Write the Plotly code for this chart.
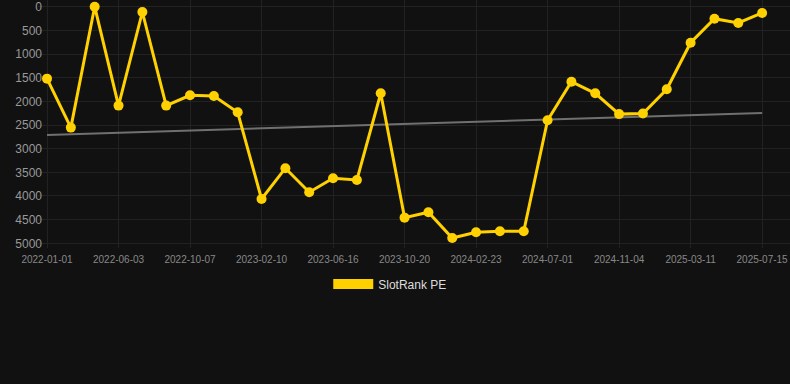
import plotly.graph_objects as go

dates = [
    "2022-01-01", "2022-02-19", "2022-04-11", "2022-06-03", "2022-07-15", "2022-08-26",
    "2022-10-07", "2022-11-18", "2022-12-30", "2023-02-10", "2023-03-24", "2023-05-05",
    "2023-06-16", "2023-07-28", "2023-09-08", "2023-10-20", "2023-12-01", "2024-01-12",
    "2024-02-23", "2024-04-06", "2024-05-19", "2024-07-01", "2024-08-12", "2024-09-23",
    "2024-11-04", "2024-12-16", "2025-01-27", "2025-03-11", "2025-04-22", "2025-06-03",
    "2025-07-15",
]
rank = [
    1520, 2555, 0, 2090, 112, 2090, 1873, 1887, 2232, 4064,
    3413, 3920, 3625, 3662, 1830, 4458, 4343, 4888, 4766, 4747,
    4747, 2400, 1585, 1830, 2270, 2258, 1745, 762, 253, 343,
    133,
]
trend_x = [dates[0], dates[-1]]
trend_y = [2711, 2246]
tick_dates = dates[::3]
y_ticks = [0, 500, 1000, 1500, 2000, 2500, 3000, 3500, 4000, 4500, 5000]
series_name = "SlotRank PE"

gold = "#FFD100"
bg = "#111111"

fig = go.Figure()
fig.add_trace(go.Scatter(
    x=trend_x, y=trend_y, mode="lines",
    line=dict(color="#707070", width=2),
    showlegend=False, hoverinfo="skip",
))
fig.add_trace(go.Scatter(
    x=dates, y=rank, mode="lines+markers",
    line=dict(color=gold, width=3),
    marker=dict(color=gold, size=10),
    cliponaxis=False, showlegend=False, name=series_name,
))
fig.add_trace(go.Scatter(
    x=[None], y=[None], mode="lines",
    line=dict(color=gold, width=12),
    name=series_name, showlegend=True,
))

s = 236.6 / 5000.0
fig.update_layout(
    width=790, height=384,
    paper_bgcolor=bg, plot_bgcolor=bg,
    margin=dict(l=38, r=0, t=0, b=136),
    font=dict(family="Arial, Liberation Sans, sans-serif", color="#999999"),
    xaxis=dict(
        type="category",
        categoryorder="array", categoryarray=dates,
        range=[-0.378, 31.17],
        tickvals=tick_dates, ticktext=tick_dates,
        tickfont=dict(size=10, color="#888888"),
        showgrid=True, gridcolor="#222222", gridwidth=1,
        zeroline=False, showline=False, ticks="",
        ticklabelstandoff=4, ticklabeloverflow="allow",
    ),
    yaxis=dict(
        range=[(248 - 6.7) / s, -6.7 / s],
        tickvals=y_ticks,
        tickfont=dict(size=12, color="#999999"),
        showgrid=True, gridcolor="#222222", gridwidth=1,
        zeroline=False, showline=False, ticks="",
        ticklabelstandoff=-5, ticklabeloverflow="allow",
    ),
    legend=dict(
        orientation="h", xref="container", yref="container",
        x=0.494, xanchor="center", y=1 - 284 / 384, yanchor="middle",
        font=dict(size=12, color="#dddddd"),
        bgcolor="rgba(0,0,0,0)",
        itemwidth=40,
    ),
    hovermode="closest",
)

fig.write_html(
    "out.html",
    config={"displayModeBar": False},
    post_script="document.body.style.margin='0px';document.body.style.background='#111111';",
)
